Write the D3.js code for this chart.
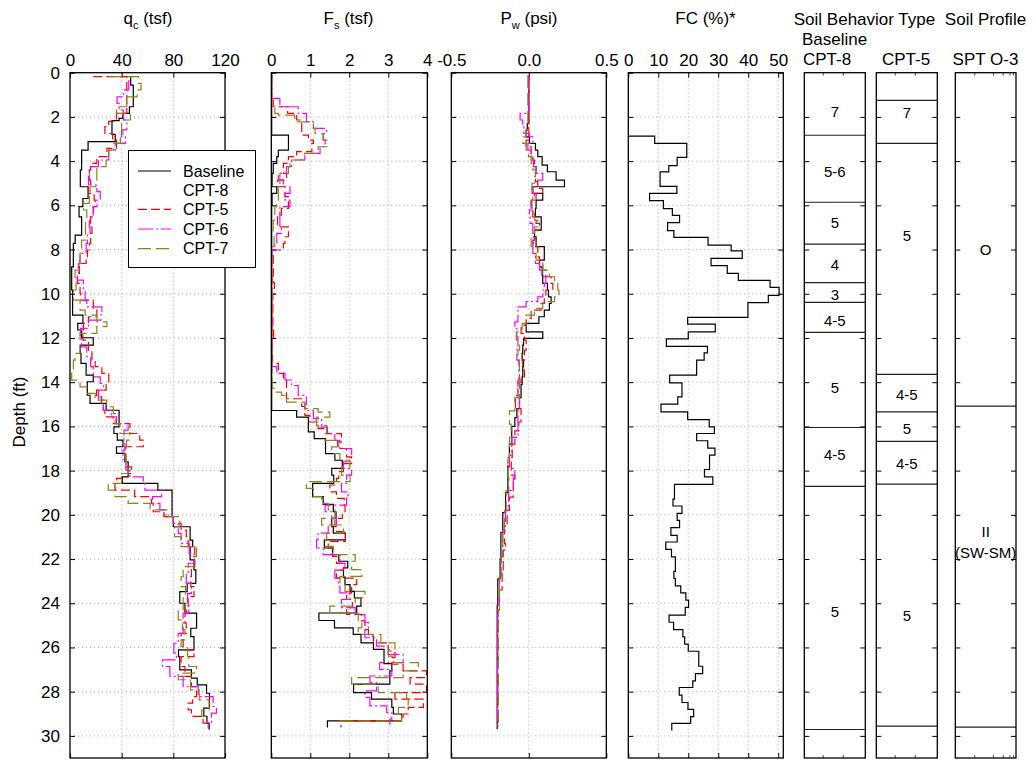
<!DOCTYPE html>
<html>
<head>
<meta charset="utf-8">
<script src="https://cdn.jsdelivr.net/npm/d3@7"></script>
<style>
  body { margin: 0; background: #fff; }
  svg text { font-family: "Liberation Sans", Arial, sans-serif; fill: #000; }
</style>
</head>
<body>
<script>
// ---- data: [depth (ft), value] steps ----
var depthTicks = d3.range(0, 31, 2);
var qcTicks = [0, 40, 80, 120];
var fsTicks = [0, 1, 2, 3, 4];
var pwTicks = [-0.5, 0, 0.5];
var fcTicks = [0, 10, 20, 30, 40, 50];
var seriesNames = ["Baseline", "CPT-5", "CPT-6", "CPT-7"];

var qcBase = [[0.2,47],[0.56,49],[1.54,46],[1.84,41],[2.07,38],[2.17,32.5],[2.79,35],[3.12,14],[3.5,9],[4.4,8],[5.16,14],[5.69,10],[6.06,7],[6.52,9],[7.35,4],[7.72,2.6],[8.78,1.3],[9.83,2],[10.97,10],[11.34,6],[11.64,9],[11.99,18],[12.32,8],[12.7,8.5],[13.15,12.5],[13.68,18],[13.98,13.4],[14.59,15.5],[14.96,28],[15.27,38],[16.02,34],[16.32,36.6],[16.62,41],[16.92,36],[17.22,42.5],[17.6,45],[18.28,40.5],[18.58,68],[18.88,79],[20.08,80],[20.54,93],[21.14,95],[21.44,93],[22.04,96],[22.49,97.4],[23.1,90.7],[23.47,85],[24.0,89],[24.45,98],[25.13,93.5],[25.51,96],[26.11,84],[26.41,85],[27.01,94],[27.39,98.5],[27.69,105.7],[28.07,108],[28.74,103.6],[29.12,106],[29.42,107.7],[29.72,107.7]];
var qcCpt5 = [[0.18,18],[0.18,44],[1.84,36],[2.2,30],[2.44,27],[2.75,33],[3.05,36],[3.42,28.6],[3.8,20.8],[4.1,16],[4.4,15],[4.86,16],[5.16,14.3],[5.46,18.7],[5.76,19.5],[6.06,18],[6.52,16],[6.97,17],[7.27,16],[7.72,15],[8.02,13.5],[8.33,12.5],[8.63,7.3],[9.08,5.7],[9.53,7.8],[9.98,8.3],[10.29,18],[10.66,20.8],[11.04,14.3],[11.34,10.4],[11.64,10],[12.1,14.3],[12.55,17],[13.0,19.5],[13.3,24.7],[13.6,30],[14.06,28],[14.36,20.6],[14.66,24.5],[14.96,25.8],[15.27,27],[15.57,33.5],[15.87,46.4],[16.32,54],[16.62,56.7],[16.92,43.3],[17.83,47.7],[18.13,40],[18.35,36],[18.58,34.8],[18.88,50],[19.18,63],[19.48,64.4],[19.86,72.7],[20.08,80],[20.39,86],[20.69,90],[20.99,91.5],[21.44,96.6],[22.34,94],[22.8,93.5],[23.25,96],[23.7,91.5],[24.15,90],[24.45,89],[24.9,90],[25.36,86],[25.66,87.6],[26.11,96],[26.41,86],[26.86,89],[27.31,94],[27.77,98],[28.22,95],[28.52,91.5],[28.82,94],[29.12,103],[29.42,107],[29.57,107]];
var qcCpt6 = [[0.33,45.5],[0.78,41.5],[1.09,36.4],[1.39,38],[1.69,41.5],[2.14,44],[2.59,40],[2.9,43],[3.2,35],[3.5,30],[3.95,22],[4.25,15],[4.7,14.3],[5.08,20.8],[5.38,23.4],[5.76,20.8],[6.06,18],[6.52,15],[6.97,15.5],[7.27,13.5],[7.72,12.5],[8.17,7.8],[8.63,6.5],[9.08,5.7],[9.38,10.4],[9.83,11.7],[10.29,13],[10.59,24.7],[10.89,24],[11.19,14.3],[11.57,8],[11.95,9],[12.4,13],[12.85,16],[13.3,18],[13.76,23.4],[14.06,25.8],[14.36,22],[14.81,25.8],[15.27,32.2],[15.57,36],[15.87,45],[16.17,41.8],[16.62,42.5],[17.07,41],[17.52,43.3],[17.98,46.4],[18.28,56.7],[18.58,58],[18.88,70.9],[19.18,63.9],[19.48,69.6],[19.78,73.5],[20.08,80],[20.39,83.8],[20.84,86],[21.29,92.3],[21.74,96],[22.19,91.5],[22.64,90],[23.1,94],[23.55,91],[24.0,92],[24.45,87.6],[25.36,83.8],[25.81,80.4],[26.26,82.5],[26.56,71.6],[26.86,77.3],[27.31,87.6],[27.77,99.2],[28.22,110.8],[28.67,113.4],[28.97,109.5],[29.42,107],[29.65,107]];
var qcCpt7 = [[0.18,30],[0.18,53],[0.48,55],[0.78,52],[1.09,44],[1.54,36],[1.84,46.8],[2.14,40],[2.59,41],[2.9,39],[3.2,33.8],[3.5,30],[3.95,28],[4.25,20.8],[4.86,20],[5.16,15.6],[5.61,15],[5.91,10.4],[6.21,13],[6.67,12],[7.12,12],[7.57,9],[8.02,7.8],[8.48,7.5],[8.93,3.9],[9.38,4.7],[9.83,2.6],[10.29,7.8],[10.74,11.7],[10.97,20.8],[11.27,28.6],[11.49,20.8],[11.79,7.8],[12.25,7.8],[12.7,3.9],[13.0,2.6],[13.45,1.3],[13.91,7.8],[14.21,13],[14.51,19.5],[14.81,28.4],[15.11,33.5],[15.42,35],[15.87,38.7],[16.32,46.4],[16.62,43.8],[16.92,42.5],[17.37,43.3],[17.83,45],[18.13,40],[18.58,29.6],[18.88,34.8],[19.18,45],[19.48,62],[19.78,76],[20.08,85],[20.54,81],[20.99,86],[21.44,98],[21.89,95.6],[22.34,87.6],[22.8,86],[23.25,89.4],[23.7,87.6],[24.3,83.8],[24.75,87],[25.2,89],[25.66,86],[25.96,91],[26.41,92],[26.86,98],[27.16,83.8],[27.46,93.3],[27.92,100],[28.37,107.7],[28.82,102],[29.12,105.7],[29.42,105.7]];

var fsBase = [[0.1,0.01],[2.82,0.44],[3.5,0.18],[3.8,0.14],[4.1,0.05],[4.55,0.02],[5.16,0.14],[5.46,0.02],[6.0,0.01],[15.28,0.65],[15.58,0.95],[16.25,1.1],[16.55,1.39],[17.23,1.63],[17.53,1.82],[17.9,1.55],[18.2,1.6],[18.58,1.06],[19.18,1.33],[19.53,1.59],[19.86,1.66],[20.16,1.55],[20.53,1.59],[20.83,1.9],[21.13,1.36],[21.5,1.57],[21.8,1.73],[22.1,1.96],[22.4,1.85],[22.83,1.89],[23.16,2.02],[23.46,2.13],[23.76,2.3],[24.13,2.19],[24.44,1.22],[24.78,1.62],[25.11,2.1],[25.41,2.3],[25.79,2.62],[26.09,2.89],[26.73,3.09],[27.06,3.04],[27.66,2.11],[28.04,2.57],[28.34,3.09],[28.71,3.13],[29.01,3.34],[29.32,1.44],[29.62,1.44]];
var fsCpt5 = [[0.1,0.01],[1.24,0.05],[1.54,0.42],[1.84,0.65],[2.14,0.78],[2.82,0.95],[3.05,1.08],[3.2,1.04],[3.57,0.65],[3.8,0.44],[4.1,0.31],[4.55,0.39],[4.86,0.16],[5.16,0.35],[5.61,0.44],[6.14,0.26],[6.44,0.16],[6.97,0.44],[7.42,0.35],[7.72,0.31],[8.02,0.05],[9.5,0.08],[10.0,0.04],[11.5,0.06],[12.0,0.03],[13.15,0.18],[13.6,0.31],[13.9,0.39],[14.3,0.39],[14.75,0.78],[15.1,0.86],[15.5,0.99],[15.8,1.2],[16.1,1.42],[16.33,1.8],[16.7,1.7],[17.0,1.93],[17.38,2.06],[17.68,1.85],[18.05,1.73],[18.35,1.67],[18.65,1.5],[18.96,1.67],[19.26,1.87],[19.56,1.89],[19.86,1.82],[20.16,1.63],[20.53,1.67],[20.76,1.9],[21.2,1.46],[21.5,1.57],[21.88,1.67],[22.2,1.85],[22.5,1.67],[22.86,2.19],[23.16,2.06],[23.53,1.93],[23.83,2.08],[24.2,1.93],[24.5,2.32],[24.8,2.4],[25.19,2.49],[25.49,2.62],[25.79,3.0],[26.16,3.17],[26.46,3.09],[26.76,3.38],[27.06,3.98],[27.36,3.56],[27.66,3.98],[28.04,3.17],[28.34,3.9],[28.71,3.51],[29.01,3.38],[29.32,1.79],[29.62,1.79]];
var fsCpt6 = [[0.1,0.01],[1.16,0.22],[1.54,0.69],[1.84,0.9],[2.22,1.08],[2.52,1.42],[2.75,1.33],[3.05,1.38],[3.35,1.25],[3.65,0.86],[3.95,0.52],[4.25,0.39],[4.55,0.18],[4.86,0.31],[5.16,0.48],[5.46,0.35],[5.76,0.48],[6.06,0.22],[6.97,0.26],[7.27,0.14],[7.72,0.09],[8.0,0.02],[13.3,0.14],[13.6,0.35],[13.9,0.52],[14.15,0.69],[14.6,0.9],[15.0,0.86],[15.28,1.08],[15.65,1.29],[16.03,1.44],[16.33,1.63],[16.63,1.76],[17.0,2.06],[17.3,2.02],[17.6,1.85],[17.9,2.06],[18.2,1.93],[18.58,1.8],[18.96,1.97],[19.18,1.93],[19.56,1.38],[19.86,1.55],[20.16,1.67],[20.46,1.46],[20.83,1.2],[21.13,1.16],[21.5,1.33],[21.8,1.76],[22.2,1.89],[22.5,1.63],[22.86,1.72],[23.23,1.76],[23.53,2.02],[23.83,1.8],[24.2,2.15],[24.5,2.4],[24.86,2.49],[25.19,2.4],[25.56,2.7],[25.94,3.0],[26.31,3.38],[26.69,2.78],[26.99,3.09],[27.29,2.53],[27.59,2.7],[27.96,2.4],[28.26,2.53],[28.64,2.96],[28.94,3.09],[29.24,3.04],[29.5,3.04]];
var fsCpt7 = [[0.1,0.01],[1.54,0.09],[1.84,0.18],[1.92,0.6],[2.22,1.08],[2.52,1.12],[2.75,1.33],[3.05,1.42],[3.35,1.2],[3.65,0.85],[3.95,0.48],[4.25,0.44],[4.55,0.22],[5.16,0.18],[5.76,0.14],[6.06,0.09],[6.67,0.05],[7.3,0.07],[7.87,0.02],[14.28,0.09],[14.45,0.26],[14.6,0.39],[14.9,0.86],[15.2,1.2],[15.35,1.5],[15.58,1.16],[15.95,1.42],[16.33,1.38],[16.63,1.72],[16.93,1.55],[17.23,1.76],[17.53,2.02],[17.83,1.8],[18.2,2.02],[18.5,0.9],[18.8,1.08],[19.18,1.29],[19.48,1.46],[19.78,1.63],[20.16,1.29],[20.46,1.85],[20.83,1.42],[21.13,1.38],[21.43,1.59],[21.8,2.15],[22.1,2.06],[22.48,2.32],[22.78,1.76],[23.16,1.89],[23.46,2.4],[23.76,2.15],[24.13,1.5],[24.44,2.23],[24.8,2.32],[25.11,2.23],[25.41,2.81],[25.79,3.17],[26.09,3.0],[26.39,3.13],[26.69,3.77],[27.06,3.38],[27.36,2.06],[27.66,2.74],[28.04,3.47],[28.34,3.51],[28.71,3.26],[29.01,3.34],[29.32,1.72],[29.45,1.72]];

var pwBase = [[0.1,0],[2.3,-0.01],[2.6,-0.017],[2.9,0.004],[3.2,0.043],[3.5,0.058],[3.8,0.086],[4.18,0.12],[4.48,0.176],[4.86,0.23],[5.16,0.026],[5.46,0.09],[5.76,0.047],[6.14,0.043],[6.52,0.08],[7.12,0.037],[7.42,0.047],[7.87,0.1],[8.48,0.069],[8.78,0.086],[9.16,0.09],[9.53,0.12],[9.83,0.127],[10.14,0.144],[10.44,0.133],[10.74,0.1],[11.04,0.065],[11.34,-0.017],[11.72,0.09],[12.02,-0.034],[12.32,-0.039],[12.7,-0.043],[13.0,-0.034],[13.3,-0.039],[13.76,-0.043],[14.1,-0.05],[14.7,-0.06],[15.2,-0.077],[15.6,-0.09],[16.0,-0.11],[16.8,-0.125],[17.8,-0.135],[19.0,-0.15],[19.9,-0.168],[20.8,-0.18],[22.0,-0.185],[22.9,-0.2],[24.1,-0.204],[29.7,-0.204]];
var pwCpt5 = [[0.1,0],[3.05,-0.017],[3.35,0.015],[3.65,0.026],[3.95,0.037],[4.25,0.047],[4.55,0.043],[4.93,0.058],[5.23,0.09],[5.46,0.047],[5.76,0.015],[6.06,0.026],[6.52,0.047],[6.82,0.069],[7.12,0.037],[7.57,0.026],[7.87,0.058],[8.33,0.069],[8.63,0.09],[8.93,0.11],[9.23,0.144],[9.53,0.155],[9.83,0.11],[10.14,0.1],[10.44,0.08],[10.74,0.015],[11.12,-0.017],[11.42,-0.05],[11.79,-0.028],[12.1,-0.017],[12.55,-0.028],[13.0,-0.039],[13.45,-0.028],[13.76,-0.05],[14.0,-0.07],[14.6,-0.086],[15.2,-0.05],[15.8,-0.065],[16.2,-0.09],[16.8,-0.107],[17.4,-0.113],[18.2,-0.09],[18.5,-0.1],[19.2,-0.125],[19.8,-0.14],[20.4,-0.157],[21.3,-0.15],[21.6,-0.165],[22.5,-0.172],[23.4,-0.19],[24.3,-0.198],[25.0,-0.2],[29.6,-0.2]];
var pwCpt6 = [[0.1,0],[1.84,-0.056],[2.14,-0.039],[2.44,-0.032],[2.75,0.004],[2.9,0.026],[3.2,-0.006],[3.5,0.015],[3.95,0.03],[4.25,0.047],[4.55,0.09],[4.86,0.058],[5.16,0.021],[5.46,0.037],[5.76,0.015],[6.21,0.004],[6.52,0.008],[6.82,0.026],[7.27,0.03],[7.72,0.026],[8.17,0.043],[8.63,0.069],[8.93,0.09],[9.23,0.11],[9.53,0.1],[9.83,0.09],[10.14,0.058],[10.36,-0.017],[10.59,-0.07],[11.27,-0.09],[11.57,-0.077],[11.95,-0.07],[12.4,-0.077],[13.0,-0.064],[13.45,-0.06],[13.9,-0.07],[14.7,-0.06],[15.3,-0.07],[16.5,-0.11],[17.3,-0.125],[17.9,-0.09],[18.3,-0.1],[18.9,-0.13],[19.8,-0.15],[20.7,-0.168],[21.9,-0.178],[22.8,-0.19],[24.1,-0.2],[25.3,-0.202],[29.6,-0.202]];
var pwCpt7 = [[0.1,-0.006],[2.59,-0.017],[2.9,-0.039],[3.2,-0.017],[3.5,-0.002],[3.8,0.015],[4.1,0.026],[4.4,0.043],[4.7,0.037],[5.0,0.021],[5.3,0.026],[5.76,0.021],[6.36,0.037],[6.67,0.058],[6.97,0.037],[7.27,0.015],[7.87,0.026],[8.17,0.047],[8.48,0.09],[8.93,0.133],[9.23,0.166],[9.53,0.187],[9.83,0.194],[10.14,0.166],[10.36,0.09],[10.66,0.037],[10.97,-0.017],[11.34,-0.043],[11.72,-0.08],[12.1,-0.06],[12.55,-0.07],[13.0,-0.06],[13.45,-0.064],[14.0,-0.06],[14.7,-0.09],[15.3,-0.125],[15.9,-0.114],[16.5,-0.125],[17.4,-0.135],[18.3,-0.129],[18.9,-0.146],[19.8,-0.157],[20.7,-0.168],[21.9,-0.178],[22.8,-0.19],[24.3,-0.196],[29.4,-0.196]];

var fcBase = [[2.87,0],[2.87,8.8],[3.2,19.5],[3.83,16.3],[4.2,13.5],[4.49,10.6],[5.14,16.2],[5.46,7.1],[5.79,11.7],[6.15,14.7],[6.45,17.1],[6.78,13.1],[7.14,15.2],[7.45,26.6],[7.8,34.3],[8.06,38],[8.4,27.6],[8.73,33],[9.08,36.7],[9.39,47.3],[9.71,50.3],[10.07,46.7],[10.4,39.9],[11.07,19.8],[11.37,29],[11.72,20],[12.04,12.7],[12.38,26.4],[12.67,25.3],[13.0,22.8],[13.68,13.8],[14.03,17.9],[14.66,16.5],[14.99,10.9],[15.34,19.8],[15.69,27],[16.02,28.7],[16.32,22.8],[16.65,26.5],[16.98,28.9],[17.3,27.1],[17.95,25.4],[18.28,28.2],[18.62,15.4],[19.29,14.9],[19.6,17.9],[19.93,16.3],[20.25,17.1],[20.58,14.2],[20.93,16.3],[21.23,12.5],[21.56,14.4],[21.9,15.7],[22.56,15.2],[22.88,15.7],[23.21,17.5],[23.53,19.2],[23.86,20.1],[24.19,19],[24.54,13.6],[24.86,15.1],[25.19,18.2],[25.52,18.8],[25.85,20],[26.17,23.5],[26.85,24.8],[27.18,22.4],[27.51,21.5],[27.81,17],[28.16,17.9],[28.49,19.9],[28.8,21.8],[29.13,20.8],[29.43,14.5],[29.76,14.5]];

// soil columns: layer top, bottom, label, depth of label
var sbtCpt8 = [[0,2.83,"7",1.78],[2.83,5.86,"5-6",4.5],[5.86,7.75,"5",6.8],[7.75,9.5,"4",8.7],[9.5,10.39,"3",10.06],[10.39,11.75,"4-5",11.2],[11.75,16.05,"5",14.25],[16.05,18.71,"4-5",17.3],[18.71,29.71,"5",24.4]];
var sbtCpt5 = [[0,1.25,"",0],[1.25,3.2,"7",1.81],[3.2,13.65,"5",7.36],[13.65,15.34,"4-5",14.58],[15.34,16.68,"5",16.09],[16.68,18.61,"4-5",17.7],[18.61,29.56,"5",24.55]];
var sptO3 = [[0,15.08,"O",7.99],[15.08,29.6,"II",20.77]];
var sptO3Sub = ["(SW-SM)", 21.7];

// ---- drawing ----
var w = 1034, h = 761;
var fontFam = "Liberation Sans, Arial, sans-serif";
var colors = ["#000000", "#ff0000", "#ff00ff", "#85851a"];
var dashes = [null, "9,4", "15,3,2,3", "13,5"];

var svg = d3.select("body").append("svg")
  .attr("width", w).attr("height", h);

var yScale = d3.scaleLinear().domain([0, 31]).range([72.7, 758]);

function styleAxis(g) {
  g.select(".domain").remove();
  g.attr("font-size", 17).attr("font-family", fontFam);
  g.selectAll(".tick line").attr("stroke", "#000");
}

function framePanel(x0, x1, xs, ticks, fmt, gridX, showDepth) {
  var g = svg.append("g");

  // dotted grid
  g.selectAll(".gx").data(gridX).enter().append("line")
    .attr("x1", xs).attr("x2", xs)
    .attr("y1", yScale(0)).attr("y2", yScale(31))
    .attr("stroke", "#a8a8a8").attr("stroke-dasharray", "1,3");
  g.selectAll(".gy").data(depthTicks.slice(1)).enter().append("line")
    .attr("x1", x0).attr("x2", x1)
    .attr("y1", yScale).attr("y2", yScale)
    .attr("stroke", "#a8a8a8").attr("stroke-dasharray", "1,3");

  if (xs) {
    g.append("g").attr("transform", "translate(0," + yScale(0) + ")")
      .call(d3.axisTop(xs).tickValues(ticks).tickSize(-5).tickPadding(7).tickFormat(fmt))
      .call(styleAxis);
    g.append("g").attr("transform", "translate(0," + yScale(31) + ")")
      .call(d3.axisBottom(xs).tickValues(ticks).tickSize(-5).tickFormat(""))
      .call(styleAxis);
  }

  var left = d3.axisLeft(yScale).tickValues(depthTicks).tickSize(-5).tickPadding(10);
  if (!showDepth) left.tickFormat("");
  g.append("g").attr("transform", "translate(" + x0 + ",0)").call(left).call(styleAxis);
  g.append("g").attr("transform", "translate(" + x1 + ",0)")
    .call(d3.axisRight(yScale).tickValues(depthTicks).tickSize(-5).tickFormat(""))
    .call(styleAxis);

  return g;
}

function drawSeries(xs, list) {
  var line = d3.line()
    .curve(d3.curveStepBefore)
    .x(function(d){ return xs(d[1]); })
    .y(function(d){ return yScale(d[0]); });
  list.forEach(function(data, i) {
    svg.append("path")
      .attr("d", line(data))
      .attr("fill", "none")
      .attr("stroke", colors[i])
      .attr("stroke-width", 1.2)
      .attr("stroke-dasharray", dashes[i]);
  });
}

function border(x0, x1) {
  svg.append("rect")
    .attr("x", x0).attr("y", yScale(0))
    .attr("width", x1 - x0).attr("height", yScale(31) - yScale(0))
    .attr("fill", "none").attr("stroke", "#000").attr("stroke-width", 1.3);
}

var intFmt = d3.format("d");
var pwFmt = function(d){ return d.toFixed(1); };

// qc
var xQc = d3.scaleLinear().domain([0, 120]).range([70, 225]);
framePanel(70, 225, xQc, qcTicks, intFmt, [40, 80], true);
drawSeries(xQc, [qcBase, qcCpt5, qcCpt6, qcCpt7]);
border(70, 225);

// Fs
var xFs = d3.scaleLinear().domain([0, 4]).range([271.3, 427.3]);
framePanel(271.3, 427.3, xFs, fsTicks, intFmt, [1, 2, 3], false);
drawSeries(xFs, [fsBase, fsCpt5, fsCpt6, fsCpt7]);
border(271.3, 427.3);

// Pw
var xPw = d3.scaleLinear().domain([-0.5, 0.5]).range([451.3, 606.3]);
framePanel(451.3, 606.3, xPw, pwTicks, pwFmt, [0], false);
drawSeries(xPw, [pwBase, pwCpt5, pwCpt6, pwCpt7]);
border(451.3, 606.3);

// FC
var xFc = d3.scaleLinear().domain([0, 51.7]).range([628.3, 783.3]);
framePanel(628.3, 783.3, xFc, fcTicks, intFmt, [10, 20, 30, 40, 50], false);
drawSeries(xFc, [fcBase]);
border(628.3, 783.3);

// soil columns
function soilColumn(x0, x1, layers, minorTicks) {
  var g = svg.append("g");
  g.append("g").attr("transform", "translate(" + x0 + ",0)")
    .call(d3.axisLeft(yScale).tickValues(depthTicks.slice(1)).tickSize(-5).tickFormat(""))
    .call(styleAxis);
  g.append("g").attr("transform", "translate(" + x1 + ",0)")
    .call(d3.axisRight(yScale).tickValues(depthTicks.slice(1)).tickSize(-5).tickFormat(""))
    .call(styleAxis);
  var fx = d3.scaleLinear().domain([0, 1]).range([x0, x1]);
  minorTicks.forEach(function(t) {
    g.append("line").attr("x1", fx(t)).attr("x2", fx(t))
      .attr("y1", yScale(0)).attr("y2", yScale(0) + 3).attr("stroke", "#555");
    g.append("line").attr("x1", fx(t)).attr("x2", fx(t))
      .attr("y1", yScale(31)).attr("y2", yScale(31) - 3).attr("stroke", "#555");
  });
  layers.forEach(function(l) {
    if (l[1] < 31) {
      g.append("line")
        .attr("x1", x0).attr("x2", x1)
        .attr("y1", yScale(l[1])).attr("y2", yScale(l[1]))
        .attr("stroke", "#222").attr("stroke-width", 1.2);
    }
    if (l[2]) {
      g.append("text")
        .attr("x", (x0 + x1) / 2).attr("y", yScale(l[3]))
        .attr("dy", "0.35em").attr("text-anchor", "middle")
        .attr("font-size", 15).text(l[2]);
    }
  });
  border(x0, x1);
  return g;
}

soilColumn(804.3, 865.3, sbtCpt8, [0.31, 0.64]);
soilColumn(876.3, 937.3, sbtCpt5, [0.31, 0.64]);
var spt = soilColumn(955.3, 1016, sptO3, [0.32, 0.63, 0.79, 0.9, 0.96]);
spt.append("text")
  .attr("x", (955.3 + 1016) / 2).attr("y", yScale(sptO3Sub[1]))
  .attr("dy", "0.35em").attr("text-anchor", "middle")
  .attr("font-size", 15).text(sptO3Sub[0]);

// titles
function title(x, y, parts, size) {
  var t = svg.append("text").attr("x", x).attr("y", y)
    .attr("text-anchor", "middle").attr("font-size", size || 17);
  parts.forEach(function(p) {
    var s = t.append("tspan").text(p[0]);
    if (p[1]) s.attr("dy", p[1]);
    if (p[2]) s.attr("font-size", p[2]);
  });
}
title(148, 24, [["q"], ["c", 5, 11], [" (tsf)", -5]]);
title(348.5, 24, [["F"], ["s", 5, 11], [" (tsf)", -5]]);
title(529, 24, [["P"], ["w", 5, 11], [" (psi)", -5]]);
title(705.5, 24, [["FC (%)*"]]);
title(864.5, 25, [["Soil Behavior Type"]]);
title(985.5, 25, [["Soil Profile"]]);
title(834.5, 45, [["Baseline"]]);
title(827, 65, [["CPT-8"]]);
title(906, 65, [["CPT-5"]]);
title(985.5, 65, [["SPT O-3"]]);

svg.append("text")
  .attr("transform", "translate(25,412) rotate(-90)")
  .attr("text-anchor", "middle").attr("font-size", 17)
  .text("Depth (ft)");

// legend
var leg = svg.append("g");
leg.append("rect")
  .attr("x", 128.5).attr("y", 150.5).attr("width", 127).attr("height", 117)
  .attr("fill", "#fff").attr("stroke", "#000").attr("stroke-width", 1);
var legRows = [171, 209.3, 229, 248.7];
seriesNames.forEach(function(name, i) {
  leg.append("line")
    .attr("x1", 138).attr("x2", 171)
    .attr("y1", legRows[i]).attr("y2", legRows[i])
    .attr("stroke", colors[i]).attr("stroke-width", 1.2)
    .attr("stroke-dasharray", dashes[i]);
  leg.append("text")
    .attr("x", 183).attr("y", legRows[i]).attr("dy", "0.35em")
    .attr("font-size", 16).text(name);
});
leg.append("text")
  .attr("x", 183).attr("y", 190).attr("dy", "0.35em")
  .attr("font-size", 16).text("CPT-8");
</script>
</body>
</html>
